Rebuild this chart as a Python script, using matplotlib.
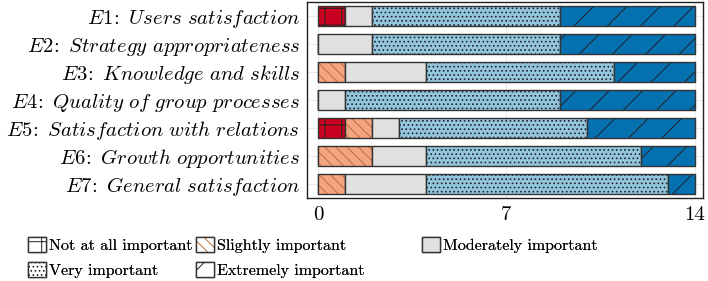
import matplotlib
matplotlib.use("Agg")
import matplotlib.pyplot as plt
from matplotlib.patches import Patch
import numpy as np

plt.rcParams['mathtext.fontset'] = 'cm'
plt.rcParams['font.family'] = ['cmr10', 'DejaVu Serif']
plt.rcParams['axes.formatter.use_mathtext'] = True
plt.rcParams['hatch.linewidth'] = 0.7

categories = ["E1", "E2", "E3", "E4", "E5", "E6", "E7"]
names = ["Users satisfaction", "Strategy appropriateness", "Knowledge and skills",
         "Quality of group processes", "Satisfaction with relations",
         "Growth opportunities", "General satisfaction"]
levels = ["Not at all important", "Slightly important", "Moderately important",
          "Very important", "Extremely important"]
not_at_all = [1, 0, 0, 0, 1, 0, 0]
slightly = [0, 0, 1, 0, 1, 2, 1]
moderately = [1, 2, 3, 1, 1, 2, 3]
very = [7, 7, 7, 8, 7, 8, 9]
extremely = [5, 5, 3, 5, 4, 2, 1]
xticks = [0, 7, 14]

series = [not_at_all, slightly, moderately, very, extremely]
colors = ["#CA0020", "#F4A582", "#E0E0E0", "#92C5DE", "#0571B0"]
hatches = ["+", "\\\\\\", "", "....", "/"]
hatch_colors = ["#222222", "#B8703A", "#333333", "#222222", "#222222"]

W, H = 708, 281
fig = plt.figure(figsize=(W / 100, H / 100), dpi=100)
ax = fig.add_axes([307 / W, 1 - 198 / H, (703 - 307) / W, (198 - 2) / H])

y = np.arange(len(categories))
left = np.zeros(len(categories))
for vals, c, h, hc in zip(series, colors, hatches, hatch_colors):
    vals = np.array(vals, dtype=float)
    bars = ax.barh(y, vals, left=left, height=0.74, color=c, edgecolor="#333333",
                   linewidth=1.0, zorder=3)
    for b in bars:
        b.set_hatch(h)
        b._hatch_color = matplotlib.colors.to_rgba(hc)
    left += vals

ax.set_xlim(-0.41, 14.3)
ax.set_ylim(len(categories) - 0.5, -0.5)
ax.set_yticks(y)
labels = [r"$%s\!:\,\,%s$" % (c, n.replace(" ", r"\,\,")) for c, n in zip(categories, names)]
ax.set_yticklabels(labels, fontsize=14.9)
ax.set_xticks(xticks)
ax.set_xticklabels([str(t) for t in xticks], fontsize=15)
ax.tick_params(axis="y", length=0, pad=5)
ax.tick_params(axis="x", length=0, pad=6)
ax.grid(True, color="#EAEAEA", linewidth=0.8, zorder=0)
for s in ax.spines.values():
    s.set_color("#222222")
    s.set_linewidth(1.0)

handles = []
for lab, h, hc in zip(levels, hatches, hatch_colors):
    p = Patch(facecolor="white" if h else "#E0E0E0", edgecolor="#333333", hatch=h, label=lab)
    p._hatch_color = matplotlib.colors.to_rgba(hc)
    handles.append(p)

columns = [([handles[0], handles[3]], 28), ([handles[1], handles[4]], 196), ([handles[2]], 422)]
for hs, xpx in columns:
    lg = fig.legend(handles=hs, loc="upper left", bbox_to_anchor=(xpx / W, 1 - 237 / H),
                    ncol=1, frameon=False, fontsize=11.5, handlelength=1.1, handleheight=1.1,
                    handletextpad=0.2, labelspacing=0.55, borderpad=0, borderaxespad=0)
    fig.add_artist(lg)
fig.savefig("out.png", dpi=100)
